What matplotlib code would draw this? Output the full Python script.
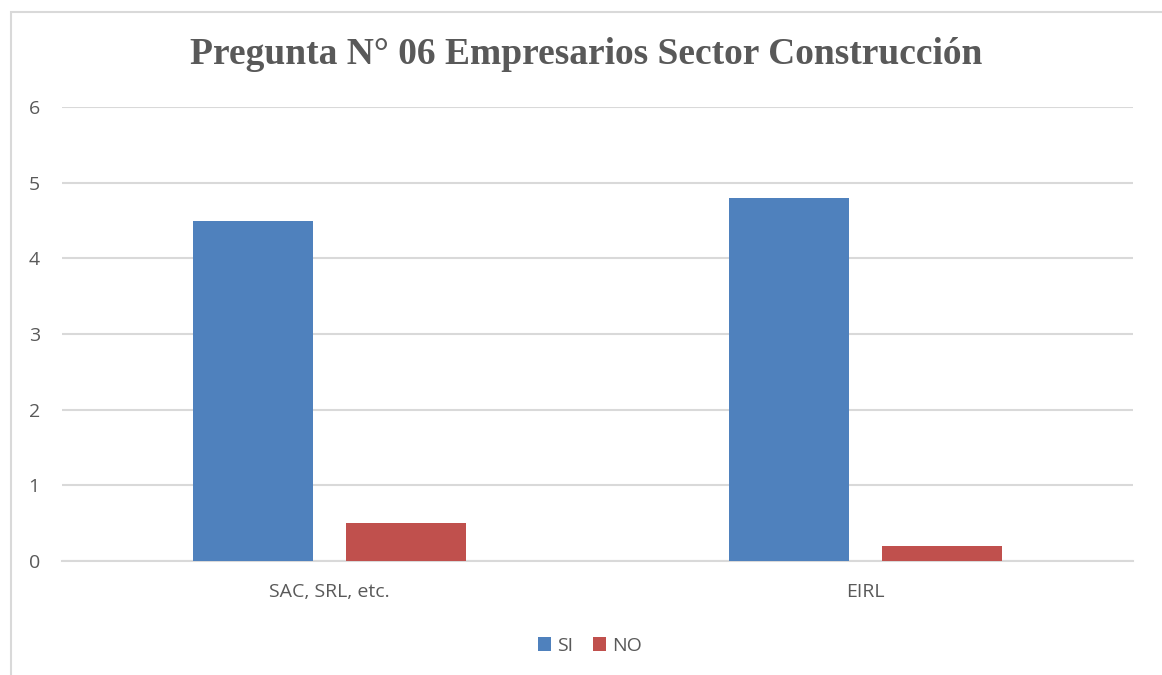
import matplotlib.pyplot as plt
from matplotlib.patches import Rectangle
import numpy as np

categories = ["SAC, SRL, etc.", "EIRL"]
si_values = [4.5, 4.8]
no_values = [0.5, 0.2]
series_names = ["SI", "NO"]
title = "Pregunta N° 06 Empresarios Sector Construcción"

blue = "#4f81bd"
red = "#c0504d"
grey_text = "#595959"
grid_col = "#d9d9d9"

plt.rcParams['font.family'] = ['Open Sans', 'DejaVu Sans']

fig = plt.figure(figsize=(11.62, 6.75), dpi=100)
# outer chart frame (extends past right and bottom edges like the reference)
fig.patches.append(Rectangle((10.5 / 1162, -0.1), 1.2, 1 - 11.5 / 675 + 0.1,
                             transform=fig.transFigure, fill=False,
                             edgecolor=grid_col, linewidth=1.5))

ax = fig.add_axes([62 / 1162, (675 - 561) / 675, (1133 - 62) / 1162, (561 - 107) / 675])

x = np.arange(len(categories))
w = 0.224
off = 0.143
b1 = ax.bar(x - off, si_values, w, color=blue, label=series_names[0], zorder=3)
b2 = ax.bar(x + off, no_values, w, color=red, label=series_names[1], zorder=3)

ax.set_xlim(-0.5, 1.5)
ax.set_ylim(0, 6)
ax.set_yticks(range(0, 7))
ax.set_xticks(x)
ax.set_xticklabels(categories)
ax.yaxis.grid(True, color=grid_col, linewidth=1.5, zorder=0)
ax.set_axisbelow(True)
for s in ["top", "right", "left"]:
    ax.spines[s].set_visible(False)
ax.spines["bottom"].set_color(grid_col)
ax.spines["bottom"].set_linewidth(1.5)
ax.tick_params(axis="both", length=0, labelsize=14, labelcolor=grey_text)
ax.tick_params(axis="y", pad=16)
ax.tick_params(axis="x", pad=16)

fig.text(586 / 1162, 1 - 55 / 675, title, ha="center", va="center",
         fontsize=27, fontweight="bold", family="Liberation Serif", color=grey_text)

fig.legend(handles=[b1, b2], loc="center", bbox_to_anchor=(590 / 1162, 1 - 646 / 675),
           ncol=2, frameon=False, fontsize=14, labelcolor=grey_text,
           handlelength=0.7, handleheight=0.7, handletextpad=0.3, columnspacing=1.0)

fig.savefig("out.png", dpi=100, facecolor="white")
